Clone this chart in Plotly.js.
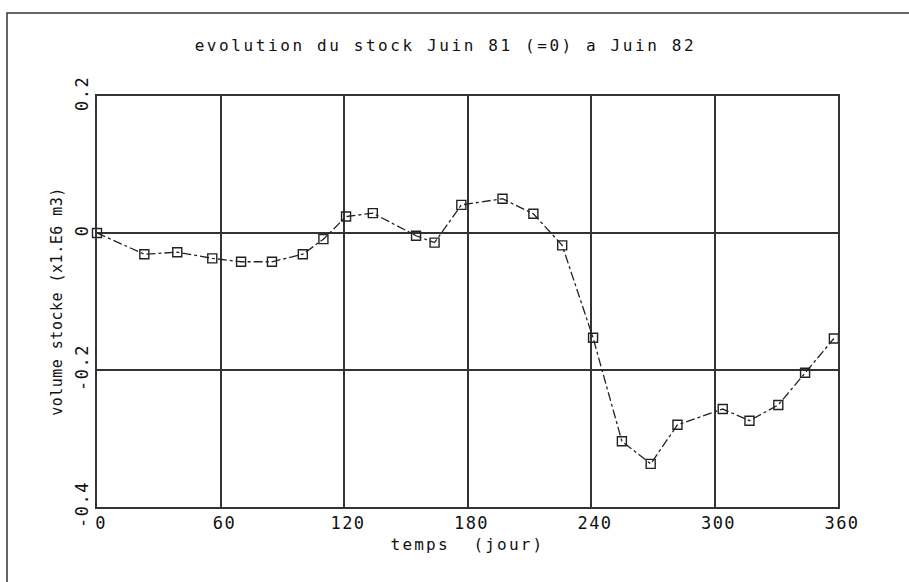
<!DOCTYPE html>
<html>
<head>
<meta charset="utf-8">
<script src="https://cdn.plot.ly/plotly-3.0.1.min.js"></script>
<style>
html,body{margin:0;padding:0;background:#fff;}
#chart{width:909px;height:582px;}
.gtitle{letter-spacing:2.6px;}
.xtitle{letter-spacing:2.2px;}
.ytitle{letter-spacing:0.5px;}
.xtick text,.ytick text{letter-spacing:1.5px;}
</style>
</head>
<body>
<div id="chart"></div>
<script>
// Days since June 1981 (=0)
const days = [0, 23, 39, 56, 70, 85, 100, 110, 121, 134, 155, 164, 177, 197, 212, 226, 241, 255, 269, 282, 304, 317, 331, 344, 358];
// Stock volume (x1.E6 m3)
const volume = [0, -0.031, -0.028, -0.037, -0.042, -0.042, -0.031, -0.009, 0.024, 0.029, -0.004, -0.014, 0.041, 0.05, 0.028, -0.018, -0.153, -0.304, -0.337, -0.28, -0.257, -0.274, -0.251, -0.204, -0.154];
const xTicks = [0, 60, 120, 180, 240, 300, 360];
const yTicks = [0.2, 0, -0.2, -0.4];
const yTickText = ['0.2', '0', '-0.2', '-0.4'];

const font = {family: 'DejaVu Sans Mono, monospace', color: '#111'};
const L = 97, R = 838, T = 96, B = 507;
const px = v => (v - L) / (R - L);
const py = v => (B - v) / (B - T);

Plotly.newPlot('chart', [{
  x: days, y: volume,
  type: 'scatter', mode: 'lines+markers',
  line: {color: '#222', width: 1.3, dash: 'dashdot'},
  marker: {symbol: 'square-open', size: 9, color: '#222', line: {width: 1.4, color: '#222'}},
  cliponaxis: false,
  showlegend: false
}], {
  width: 909, height: 582,
  margin: {l: L, r: 909 - R, t: T, b: 582 - B},
  paper_bgcolor: '#fff', plot_bgcolor: '#fff',
  title: {text: 'evolution du stock Juin 81 (=0) a Juin 82', font: Object.assign({size: 16}, font), x: 0.49, xanchor: 'center', y: 0.922, yanchor: 'middle'},
  xaxis: {
    range: [0, 360], tickvals: xTicks, ticktext: xTicks.map(String),
    showgrid: true, gridcolor: '#333', gridwidth: 2,
    showline: true, linecolor: '#333', linewidth: 2, mirror: true,
    zeroline: false, ticks: '', ticklabelshift: 4, tickfont: Object.assign({size: 17}, font),
    title: {text: 'temps  (jour)', font: Object.assign({size: 16}, font), standoff: 6}
  },
  yaxis: {
    range: [-0.4, 0.2], tickvals: yTicks, ticktext: yTickText, tickangle: -90,
    showgrid: true, gridcolor: '#333', gridwidth: 2,
    showline: true, linecolor: '#333', linewidth: 2, mirror: true,
    zeroline: false, ticks: '', ticklabelstandoff: 0, tickfont: Object.assign({size: 17}, font),
    title: {text: 'volume stocke (x1.E6 m3)', font: Object.assign({size: 15}, font), standoff: 6}
  },
  shapes: [{
    type: 'rect', xref: 'paper', yref: 'paper',
    x0: px(7), x1: px(920), y0: py(600), y1: py(13),
    line: {color: '#333', width: 1.5}, fillcolor: 'rgba(0,0,0,0)', layer: 'below'
  }]
}, {displayModeBar: false, staticPlot: true});
</script>
</body>
</html>
